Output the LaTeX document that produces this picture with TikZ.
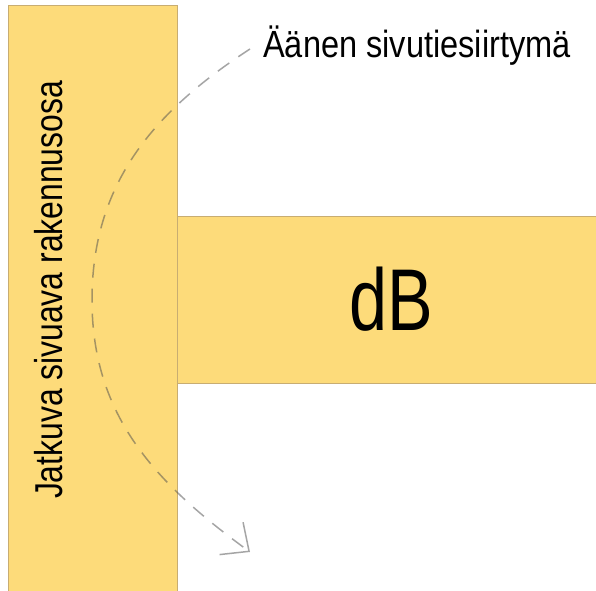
\documentclass[tikz,border=0pt]{standalone}
\usepackage{fontspec}
\setmainfont{Liberation Sans}
\usetikzlibrary{arrows.meta}
\definecolor{barfill}{RGB}{253,219,122}
\definecolor{barline}{RGB}{200,173,114}
\definecolor{pathgray}{RGB}{77,77,77}
\tikzset{
  bar/.style={fill=barfill, draw=barline, line width=1bp},
  flank/.style={draw=pathgray, opacity=0.5, line width=1.5bp, dash pattern=on 14bp off 11bp,
    -{Straight Barb[length=22bp,width=40bp,line width=1.5bp]}},
  lbl/.style={inner sep=0pt, text=black}
}
\begin{document}
\begin{tikzpicture}[x=1bp,y=1bp]
\useasboundingbox (0,0) rectangle (596,591);
\fill[white] (0,0) rectangle (596,591);
% horizontal element
\path[bar] (177,207) rectangle (600,374);
% continuous flanking element
\path[bar] (8,-2) rectangle (177,585);
\node[lbl, anchor=base] (db) at (391,260) {\fontsize{88}{90}\selectfont\scalebox{0.78}[1]{dB}};
\node[lbl, anchor=base, rotate=90] (side) at (62,301) {\fontsize{39}{40}\selectfont\scalebox{0.82}[1]{Jatkuva sivuava rakennusosa}};
\node[lbl, anchor=base west] (title) at (263,533) {\fontsize{38}{40}\selectfont\scalebox{0.86}[1]{Äänen sivutiesiirtymä}};
\coordinate (s) at (250,542);
\coordinate (m) at (92,291);
\coordinate (e) at (250,39);
\draw[flank] (s) to[out=213,in=90] (m) to[out=-90,in=144] (e);
\end{tikzpicture}
\end{document}
